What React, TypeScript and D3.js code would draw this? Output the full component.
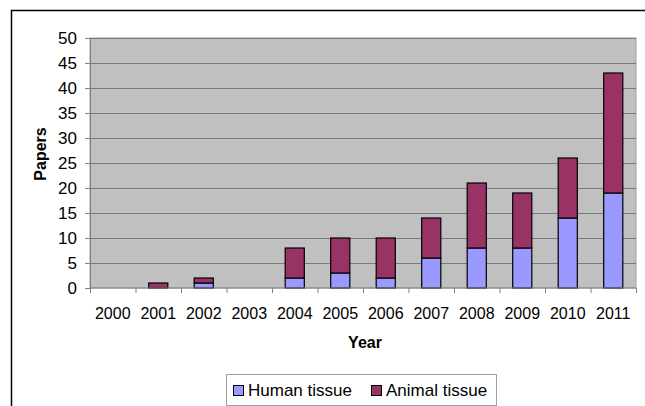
import React, { useEffect, useRef } from 'react';
import * as d3 from 'd3';

const years = ['2000', '2001', '2002', '2003', '2004', '2005', '2006', '2007', '2008', '2009', '2010', '2011'];
const human = [0, 0, 1, 0, 2, 3, 2, 6, 8, 8, 14, 19];
const animal = [0, 1, 1, 0, 6, 7, 8, 8, 13, 11, 12, 24];
const yTicks = [0, 5, 10, 15, 20, 25, 30, 35, 40, 45, 50];
const seriesNames = ['Human tissue', 'Animal tissue'];
const seriesColors = ['#9999FF', '#993366'];

const App: React.FC = () => {
  const svgRef = useRef<SVGSVGElement>(null);

  useEffect(() => {
    if (!svgRef.current) return;
    const svg = d3.select(svgRef.current);
    svg.selectAll('*').remove();

    const width = 645;
    const height = 406;
    const margin = { top: 38, right: 9, bottom: 118, left: 90 };
    const font = '"Liberation Sans", Arial, sans-serif';

    // outer frame (cropped on right and bottom)
    svg
      .append('path')
      .attr('d', `M11.5,${height} V10.5 H${width}`)
      .attr('fill', 'none')
      .attr('stroke', '#000')
      .attr('stroke-width', 1.5);

    const x = d3
      .scaleBand()
      .domain(years)
      .range([margin.left, width - margin.right])
      .paddingInner(0.58)
      .paddingOuter(0.29);

    const band = d3.scaleBand().domain(years).range([margin.left, width - margin.right]);

    const y = d3
      .scaleLinear()
      .domain([0, 50])
      .range([height - margin.bottom, margin.top]);

    // plot background
    svg
      .append('rect')
      .attr('x', margin.left)
      .attr('y', margin.top)
      .attr('width', width - margin.right - margin.left)
      .attr('height', y(0) - margin.top)
      .attr('fill', '#C0C0C0')
      .attr('stroke', '#A0A0A0')
      .attr('stroke-width', 1);

    // gridlines
    svg
      .append('g')
      .selectAll('line')
      .data(yTicks.filter((d) => d > 0))
      .enter()
      .append('line')
      .attr('x1', margin.left)
      .attr('x2', width - margin.right)
      .attr('y1', (d) => Math.round(y(d)) + 0.5)
      .attr('y2', (d) => Math.round(y(d)) + 0.5)
      .attr('stroke', '#7a7a7a')
      .attr('stroke-width', 1);

    // stacked bars
    const rows = years.map((yr, i) => ({ year: yr, human: human[i], animal: animal[i] }));
    const stack = d3.stack<{ year: string; human: number; animal: number }>().keys(['human', 'animal']);
    const layers = stack(rows);

    layers.forEach((layer, li) => {
      svg
        .append('g')
        .selectAll('rect')
        .data(layer.filter((d) => d[1] - d[0] > 0))
        .enter()
        .append('rect')
        .attr('x', (d) => x(d.data.year) || 0)
        .attr('y', (d) => y(d[1]))
        .attr('width', x.bandwidth())
        .attr('height', (d) => y(d[0]) - y(d[1]))
        .attr('fill', seriesColors[li])
        .attr('stroke', '#000')
        .attr('stroke-width', 1.2);
    });

    // y axis
    const yAxis = svg
      .append('g')
      .attr('transform', `translate(${margin.left},0)`)
      .call(d3.axisLeft(y).tickValues(yTicks).tickSize(5).tickPadding(8));
    yAxis.select('.domain').attr('stroke', '#808080');
    yAxis.selectAll('.tick line').attr('stroke', '#808080');
    yAxis
      .selectAll('.tick text')
      .attr('font-family', font)
      .attr('font-size', 17)
      .attr('fill', '#000');

    // x axis: ticks at category boundaries
    const xg = svg.append('g').attr('transform', `translate(0,${y(0)})`);
    xg.append('line')
      .attr('x1', margin.left)
      .attr('x2', width - margin.right)
      .attr('stroke', '#808080');
    xg.selectAll('.xtick')
      .data(years.concat(['end']))
      .enter()
      .append('line')
      .attr('x1', (d, i) => (i < years.length ? band(d) || 0 : band.range()[1]) + 0.5)
      .attr('x2', (d, i) => (i < years.length ? band(d) || 0 : band.range()[1]) + 0.5)
      .attr('y1', 0)
      .attr('y2', 5)
      .attr('stroke', '#808080');
    xg.selectAll('.xlabel')
      .data(years)
      .enter()
      .append('text')
      .attr('x', (d) => (band(d) || 0) + band.bandwidth() / 2)
      .attr('y', 31)
      .attr('text-anchor', 'middle')
      .attr('font-family', font)
      .attr('font-size', 16)
      .attr('fill', '#000')
      .text((d) => d);

    // axis titles
    svg
      .append('text')
      .attr('x', 365)
      .attr('y', 348)
      .attr('text-anchor', 'middle')
      .attr('font-family', font)
      .attr('font-size', 16)
      .attr('font-weight', 'bold')
      .text('Year');

    svg
      .append('text')
      .attr('transform', `translate(46,154) rotate(-90)`)
      .attr('text-anchor', 'middle')
      .attr('font-family', font)
      .attr('font-size', 16)
      .attr('font-weight', 'bold')
      .text('Papers');

    // legend
    const lg = svg.append('g');
    lg.append('rect')
      .attr('x', 226.5)
      .attr('y', 374.5)
      .attr('width', 270)
      .attr('height', 31)
      .attr('fill', '#fff')
      .attr('stroke', '#A0A0A0');
    const legendX = [233, 371];
    seriesNames.forEach((name, i) => {
      lg.append('rect')
        .attr('x', legendX[i] + 0.5)
        .attr('y', 385.5)
        .attr('width', 10)
        .attr('height', 10)
        .attr('fill', seriesColors[i])
        .attr('stroke', '#000');
      lg.append('text')
        .attr('x', legendX[i] + 15)
        .attr('y', 396)
        .attr('font-family', font)
        .attr('font-size', 17)
        .attr('fill', '#000')
        .text(name);
    });
  }, []);

  return (
    <svg
      ref={svgRef}
      width={645}
      height={406}
      style={{ position: 'absolute', left: 0, top: 0, background: '#fff' }}
    />
  );
};

export default App;
